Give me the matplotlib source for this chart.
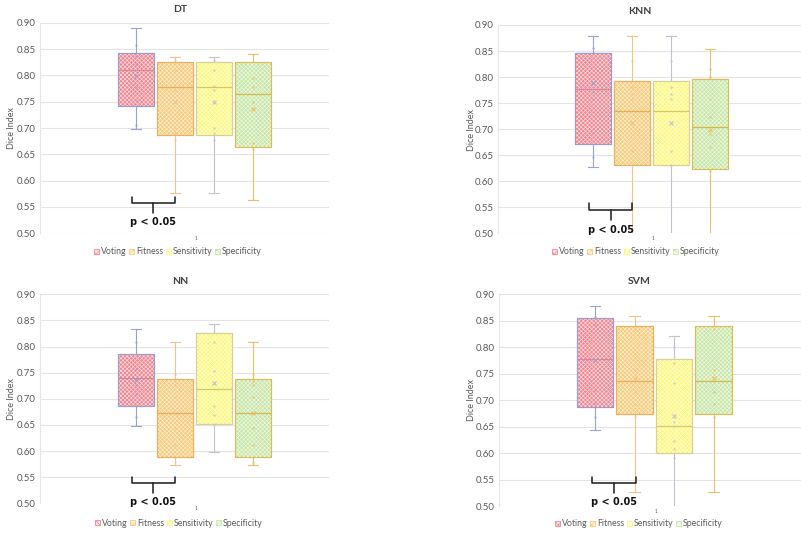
import matplotlib
matplotlib.use("Agg")
import matplotlib.pyplot as plt
from matplotlib.patches import Patch, PathPatch

# ---------------------------------------------------------------- data
series = ["Voting", "Fitness", "Sensitivity", "Specificity"]
yticks = [0.50, 0.55, 0.60, 0.65, 0.70, 0.75, 0.80, 0.85, 0.90]

# DT
dt_whislo = [0.699, 0.576, 0.576, 0.563]
dt_q1 = [0.742, 0.686, 0.686, 0.663]
dt_med = [0.810, 0.777, 0.777, 0.764]
dt_q3 = [0.843, 0.826, 0.826, 0.825]
dt_whishi = [0.889, 0.835, 0.835, 0.840]
dt_mean = [0.799, 0.750, 0.750, 0.737]
dt_points = [
    [0.858, 0.837, 0.821, 0.778, 0.753, 0.705],
    [0.830, 0.810, 0.780, 0.772, 0.700, 0.690, 0.678],
    [0.830, 0.810, 0.780, 0.772, 0.700, 0.690, 0.678],
    [0.795, 0.778, 0.750, 0.672, 0.660],
]

# KNN
knn_whislo = [0.628, 0.450, 0.450, 0.450]
knn_q1 = [0.672, 0.632, 0.632, 0.623]
knn_med = [0.778, 0.734, 0.734, 0.705]
knn_q3 = [0.846, 0.793, 0.793, 0.797]
knn_whishi = [0.879, 0.879, 0.879, 0.853]
knn_mean = [0.788, 0.712, 0.712, 0.698]
knn_points = [
    [0.855, 0.772, 0.758, 0.692, 0.647],
    [0.831, 0.780, 0.768, 0.757, 0.659, 0.632],
    [0.831, 0.780, 0.768, 0.757, 0.659, 0.632],
    [0.815, 0.800, 0.757, 0.724, 0.690, 0.665, 0.620],
]

# NN
nn_whislo = [0.647, 0.573, 0.599, 0.573]
nn_q1 = [0.687, 0.589, 0.651, 0.589]
nn_med = [0.739, 0.672, 0.719, 0.672]
nn_q3 = [0.786, 0.737, 0.825, 0.737]
nn_whishi = [0.834, 0.808, 0.843, 0.808]
nn_mean = [0.736, 0.672, 0.730, 0.672]
nn_points = [
    [0.808, 0.757, 0.727, 0.710, 0.666],
    [0.748, 0.735, 0.727, 0.704, 0.644, 0.612, 0.580],
    [0.809, 0.753, 0.686, 0.669, 0.652],
    [0.748, 0.735, 0.727, 0.704, 0.644, 0.612, 0.580],
]

# SVM
svm_whislo = [0.644, 0.527, 0.450, 0.527]
svm_q1 = [0.688, 0.674, 0.601, 0.674]
svm_med = [0.777, 0.736, 0.652, 0.736]
svm_q3 = [0.855, 0.841, 0.777, 0.841]
svm_whishi = [0.877, 0.859, 0.821, 0.859]
svm_mean = [0.776, 0.741, 0.670, 0.741]
svm_points = [
    [0.858, 0.842, 0.719, 0.694, 0.669],
    [0.834, 0.757, 0.716, 0.693, 0.669],
    [0.801, 0.770, 0.732, 0.658, 0.651, 0.622, 0.607, 0.590],
    [0.834, 0.757, 0.716, 0.693, 0.669],
]

# ---------------------------------------------------------------- style
face = ["#f2848f", "#f8c978", "#fcf878", "#c6e6a6"]
hatch_col = ["#fde3e6", "#fef2d8", "#fffde0", "#f0f9e6"]
edge = ["#9a9ccc", "#eab060", "#d6cf98", "#dcbc5a"]
whisk = ["#9aa3cf", "#f2c28a", "#c4c0cc", "#ebc064"]
median_col = ["#cf8aa6", "#e9ae58", "#dac66a", "#d6b850"]
grey = "#595959"

plt.rcParams["font.family"] = ["Lato", "DejaVu Sans"]
plt.rcParams["hatch.linewidth"] = 0.45

fig = plt.figure(figsize=(8.01, 5.34), dpi=100)
W, H = 801.0, 534.0


def axes_px(left, right, top, bottom):
    return fig.add_axes([left / W, 1 - bottom / H, (right - left) / W, (bottom - top) / H])


panels = [
    dict(title="DT", box=(40, 329, 22.7, 233.3), xlim=(-1.46, 5.95),
         stats=(dt_whislo, dt_q1, dt_med, dt_q3, dt_whishi, dt_mean, dt_points),
         title_xy=(180, 10), ylab_xy=(12, 128), leg_xy=(178, 252),
         bracket=(0.90, 2.00, 0.569, 0.557, 0.538), ptext=0.521),
    dict(title="KNN", box=(498, 808, 25, 233.3), xlim=(-1.44, 6.51),
         stats=(knn_whislo, knn_q1, knn_med, knn_q3, knn_whishi, knn_mean, knn_points),
         title_xy=(640, 12), ylab_xy=(471, 130), leg_xy=(636, 252),
         bracket=(0.90, 2.00, 0.558, 0.545, 0.526), ptext=0.507),
    dict(title="NN", box=(40, 329, 294.3, 503.3), xlim=(-1.46, 5.95),
         stats=(nn_whislo, nn_q1, nn_med, nn_q3, nn_whishi, nn_mean, nn_points),
         title_xy=(180, 281), ylab_xy=(12, 399), leg_xy=(179, 523),
         bracket=(0.90, 2.00, 0.551, 0.538, 0.520), ptext=0.503),
    dict(title="SVM", box=(499, 808, 294.3, 506), xlim=(-1.43, 6.39),
         stats=(svm_whislo, svm_q1, svm_med, svm_q3, svm_whishi, svm_mean, svm_points),
         title_xy=(639, 281), ylab_xy=(471, 400), leg_xy=(639, 524),
         bracket=(0.93, 2.03, 0.555, 0.543, 0.525), ptext=0.508),
]

positions = [1, 2, 3, 4]

for p in panels:
    ax = axes_px(*p["box"])
    lo, q1, med, q3, hi, mean, pts = p["stats"]
    bstats = [dict(whislo=lo[i], q1=q1[i], med=med[i], q3=q3[i], whishi=hi[i],
                   mean=mean[i], fliers=[], label=series[i]) for i in range(4)]
    res = ax.bxp(bstats, positions=positions, widths=0.92, patch_artist=True,
                 showmeans=True, showfliers=False, capwidths=0.26,
                 manage_ticks=False, zorder=2)
    for i, b in enumerate(res["boxes"]):
        b.set_facecolor(face[i])
        b.set_edgecolor(edge[i])
        b.set_linewidth(0.8)
        tex = PathPatch(b.get_path(), facecolor="none", edgecolor=hatch_col[i],
                        hatch="xxxxxxxx", lw=0, zorder=2.1)
        ax.add_patch(tex)
        outline = PathPatch(b.get_path(), facecolor="none", edgecolor=edge[i],
                            lw=0.8, zorder=2.2)
        ax.add_patch(outline)
    for i in range(4):
        for ln in res["whiskers"][2 * i:2 * i + 2] + res["caps"][2 * i:2 * i + 2]:
            ln.set_color(whisk[i])
            ln.set_linewidth(0.8)
        res["medians"][i].set_color(median_col[i])
        res["medians"][i].set_linewidth(0.9)
        res["medians"][i].set_zorder(2.3)
        m = res["means"][i]
        m.set_marker("x")
        m.set_markersize(3)
        m.set_markeredgecolor(whisk[i])
        m.set_markeredgewidth(0.8)
        m.set_zorder(2.4)
        ax.scatter([positions[i]] * len(pts[i]), pts[i], s=3, color=whisk[i],
                   alpha=0.7, zorder=2.4, linewidths=0)

    ax.set_xlim(*p["xlim"])
    ax.set_ylim(0.50, 0.90)
    ax.set_yticks(yticks)
    ax.set_yticklabels([f"{v:.2f}" for v in yticks])
    ax.set_xticks([2.54])
    ax.set_xticklabels(["1"])
    ax.tick_params(axis="y", length=0, pad=3, labelsize=7, labelcolor=grey)
    ax.tick_params(axis="x", length=0, pad=2, labelsize=3.5, labelcolor=grey)
    ax.grid(axis="y", color="#e3e3e3", linewidth=0.8, zorder=0)
    ax.set_axisbelow(True)
    for s in ["top", "right", "bottom"]:
        ax.spines[s].set_visible(False)
    ax.spines["left"].set_color("#e6e6e6")
    ax.spines["left"].set_linewidth(0.8)

    # significance bracket between Voting and Fitness
    x0, x1, ytop, yh, ytick = p["bracket"]
    xc = (x0 + x1) / 2
    kw = dict(color="#1a1a1a", lw=1.1, clip_on=False, zorder=5, solid_capstyle="round")
    ax.plot([x0, x0, x1, x1], [ytop, yh, yh, ytop], **kw)
    ax.plot([xc, xc], [yh, ytick], **kw)
    ax.text(xc, p["ptext"], "p < 0.05", ha="center", va="center", fontsize=7,
            fontweight="bold", family="DejaVu Sans", color="#111111", clip_on=False,
            zorder=6)

    tx, ty = p["title_xy"]
    fig.text(tx / W, 1 - ty / H, p["title"], ha="center", va="center", fontsize=7.5,
             fontweight="bold", color="#404040")
    lx, ly = p["ylab_xy"]
    fig.text(lx / W, 1 - ly / H, "Dice Index", ha="center", va="center", rotation=90,
             fontsize=6.5, color=grey)

    handles = [Patch(facecolor=hatch_col[i], edgecolor=face[i], hatch="xxxx", lw=0.6)
               for i in range(4)]
    gx, gy = p["leg_xy"]
    fig.legend(handles, series, loc="center", bbox_to_anchor=(gx / W, 1 - gy / H),
               ncol=4, frameon=False, fontsize=6.3, handlelength=0.55, handleheight=0.55,
               handletextpad=0.2, columnspacing=0.35, borderaxespad=0, borderpad=0,
               labelcolor=grey)

fig.savefig("out.png", dpi=100)
